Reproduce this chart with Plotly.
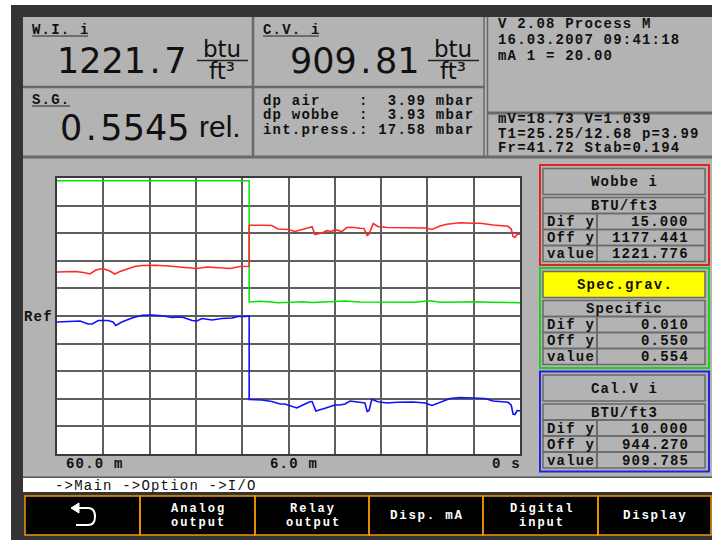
import plotly.graph_objects as go

W, H = 712, 540

# ---------------- data ----------------
# time positions in grid divisions (0 = 60.0 m ago, 10 = now)
t_wobbe = [0, 0.19, 0.39, 0.58, 0.71, 0.84, 0.99, 1.14, 1.25, 1.36, 1.53, 1.68, 1.84, 2.12, 2.40,
           2.70, 3.02, 3.24, 3.52, 3.74, 3.95, 4.13, 4.15, 4.15, 4.17, 4.43, 4.64, 4.77, 4.99, 5.14,
           5.31, 5.46, 5.51, 5.57, 5.72, 5.83, 5.94, 6.00, 6.15, 6.26, 6.37, 6.54, 6.63, 6.70, 6.74,
           6.83, 6.93, 7.13, 7.34, 7.69, 7.95, 8.10, 8.27, 8.42, 8.55, 8.70, 8.98, 9.14, 9.42, 9.74,
           9.81, 9.85, 9.89, 9.94, 10.0]
wobbe = [1201.35, 1201.63, 1201.63, 1201.08, 1200.27, 1202.44, 1203.26, 1201.90, 1200.27, 1201.63,
         1203.26, 1204.34, 1204.89, 1204.99, 1204.61, 1204.07, 1203.26, 1204.07, 1203.53, 1203.26,
         1204.34, 1204.45, 1204.45, 1226.62, 1226.73, 1226.73, 1226.62, 1224.72, 1224.45, 1223.36,
         1224.56, 1225.81, 1225.97, 1221.73, 1222.55, 1223.80, 1223.36, 1224.45, 1223.36, 1225.54,
         1225.65, 1225.10, 1224.99, 1221.19, 1222.01, 1227.71, 1226.08, 1225.54, 1225.43, 1225.65,
         1225.27, 1224.45, 1226.35, 1227.28, 1227.82, 1228.15, 1227.87, 1227.82, 1226.90, 1226.19,
         1224.72, 1220.65, 1220.10, 1221.84, 1221.84]

t_sg = [0, 4.15, 4.15, 4.38, 4.64, 4.77, 4.92, 5.14, 5.31, 5.51, 5.72, 5.94, 6.22, 6.54, 6.80,
        7.08, 7.41, 7.73, 8.06, 8.27, 8.70, 9.03, 9.35, 9.68, 10.0]
sg = [0.5990, 0.5990, 0.5551, 0.5553, 0.5551, 0.5548, 0.5549, 0.5550, 0.5552, 0.5549, 0.5551,
      0.5552, 0.5554, 0.5551, 0.5551, 0.5551, 0.5550, 0.5550, 0.5555, 0.5550, 0.5551, 0.5552,
      0.5550, 0.5549, 0.5548]

t_cal = [0, 0.19, 0.39, 0.50, 0.67, 0.76, 0.89, 1.10, 1.21, 1.27, 1.40, 1.62, 1.84, 2.05, 2.27,
         2.48, 2.70, 2.92, 3.02, 3.13, 3.35, 3.56, 3.78, 3.91, 4.06, 4.13, 4.15, 4.15, 4.17, 4.43,
         4.64, 4.82, 4.92, 5.18, 5.31, 5.46, 5.51, 5.59, 5.79, 6.00, 6.11, 6.22, 6.33, 6.44, 6.54,
         6.65, 6.70, 6.74, 6.80, 6.93, 7.13, 7.34, 7.69, 7.95, 8.10, 8.34, 8.49, 8.70, 9.07, 9.24,
         9.42, 9.74, 9.81, 9.85, 9.89, 9.94, 10.0]
cal = [942.10, 942.28, 942.46, 942.46, 941.37, 941.37, 942.64, 942.64, 942.10, 940.83, 942.10,
       943.55, 944.52, 944.63, 944.34, 943.73, 943.91, 942.64, 942.46, 943.36, 942.82, 943.36,
       943.55, 944.09, 944.09, 944.27, 944.27, 914.02, 914.02, 913.84, 913.29, 912.39, 912.39,
       910.94, 912.02, 913.22, 913.29, 909.85, 910.83, 912.02, 912.02, 912.39, 913.47, 913.29,
       912.93, 912.75, 909.67, 910.03, 914.09, 913.22, 912.75, 913.00, 913.11, 912.75, 911.84,
       913.47, 914.38, 914.74, 914.45, 914.38, 913.47, 913.00, 912.02, 908.76, 908.58, 910.03,
       909.96]

x_labels = ["60.0 m", "6.0 m", "0 s"]

wobbe_dif, wobbe_off, wobbe_val = 15.0, 1177.441, 1221.776
sg_dif, sg_off, sg_val = 0.010, 0.550, 0.554
cal_dif, cal_off, cal_val = 10.0, 944.270, 909.785

wi_value, cv_value, sg_value = "1221.7", "909.81", "0.5545"
dp_lines = ["dp air    :  3.99 mbar", "dp wobbe  :  3.93 mbar", "int.press.: 17.58 mbar"]
status_top = ["V 2.08 Process M", "16.03.2007 09:41:18", "mA 1 = 20.00"]
status_bot = ["mV=18.73 V=1.039", "T1=25.25/12.68 p=3.99", "Fr=41.72 Stab=0.194"]
nav_text = "->Main ->Option ->I/O"
buttons = [[], ["Analog", "output"], ["Relay", "output"], ["Disp. mA"], ["Digital", "input"], ["Display"]]

# ---------------- styling ----------------
DARK = "#343434"
GRAY = "#b3b3b3"
LINE = "#6a6a6a"
MONO = "Liberation Mono"
BIG = "DejaVu Sans"
ORANGE = "#f0960a"


def X(p):
    return p / W


def Y(p):
    return 1 - p / H


shapes = []
annotations = []


def rect(x0, y0, x1, y1, fill=None, line=None, lw=0):
    shapes.append(dict(type="rect", xref="paper", yref="paper", layer="below",
                       x0=X(x0), x1=X(x1), y0=Y(y1), y1=Y(y0),
                       fillcolor=fill or "rgba(0,0,0,0)",
                       line=dict(color=line or "rgba(0,0,0,0)", width=lw)))


def seg(x0, y0, x1, y1, color=LINE, lw=2, layer="below"):
    shapes.append(dict(type="line", xref="paper", yref="paper", layer=layer,
                       x0=X(x0), x1=X(x1), y0=Y(y0), y1=Y(y1),
                       line=dict(color=color, width=lw)))


def txt(s, x, y, size=16, color="#111111", xa="left", family=MONO, weight="bold", ls=None):
    if ls:
        s = f'<span style="letter-spacing:{ls}px">{s}</span>'
    annotations.append(dict(text=s, x=X(x), y=Y(y), xref="paper", yref="paper",
                            xanchor=xa, yanchor="middle", showarrow=False,
                            borderpad=0,
                            font=dict(family=family, size=size, color=color, weight=weight)))


def mono(s, x, y, xa="left", size=14, pitch=9.6, color="#111111", weight="bold"):
    """Bitmap-like monospace text: fixed character pitch via letter spacing."""
    ls = round(pitch - 0.6 * size, 2)
    dx = ls if xa == "right" else (ls / 2 if xa == "center" else 0)
    txt(s.replace(" ", "\u00a0"), x + dx, y + 1, size=size, color=color, xa=xa,
        family=MONO, weight=weight, ls=ls)


# frame
rect(11, 5, 712, 540, fill=DARK)
rect(23, 17, 712, 477, fill=GRAY)

# top panel separators
seg(253, 17, 253, 157, lw=2.5)
seg(23, 87, 485, 87, lw=2.5)
seg(484, 17, 484, 157, lw=1.5)
seg(487.5, 17, 487.5, 157, lw=1.5)
seg(487, 113, 712, 113, lw=3)
seg(23, 157, 712, 157, lw=3)

# headings with underline
mono("W.I. i", 31, 29)
seg(32, 36, 88, 36, color="#555555", lw=1.5)
mono("C.V. i", 262, 29)
seg(263, 36, 319, 36, color="#555555", lw=1.5)
mono("S.G.", 31, 99)
seg(32, 106, 70, 106, color="#555555", lw=1.5)

# big numbers
big_w = "\u200a.\u200a"
txt(wi_value.replace(".", big_w), 187, 61, size=35, xa="right", family=BIG, weight="normal")
txt(cv_value.replace(".", big_w), 420, 61, size=35, xa="right", family=BIG, weight="normal")
txt(sg_value.replace(".", big_w), 190, 128, size=35, xa="right", family=BIG, weight="normal")
txt("rel.", 198, 127, size=30, family="Liberation Sans", weight="normal")
for cx in (222, 453):
    txt("btu", cx, 49, size=23, xa="center", family=BIG, weight="normal")
    seg(cx - 25, 60.5, cx + 26, 60.5, color="#222222", lw=1.5)
    txt("ft³", cx, 71, size=23, xa="center", family=BIG, weight="normal")

for i, s in enumerate(dp_lines):
    mono(s, 262, 100 + i * 14.3)
for i, s in enumerate(status_top):
    mono(s, 497, 23 + i * 16)
for i, s in enumerate(status_bot):
    mono(s, 497, 118 + i * 14.5)

# plot area background
rect(57, 178, 520, 454, fill="white")
mono("Ref", 23, 316)
mono(x_labels[0], 65, 463)
mono(x_labels[1], 269, 463)
mono(x_labels[2], 521, 463, xa="right")

# right side panels
panels = [
    ("#e02424", 165, "Wobbe i", GRAY, "BTU/ft3", wobbe_dif, wobbe_off, wobbe_val),
    ("#22cc22", 268, "Spec.grav.", "#ffff00", "Specific", sg_dif, sg_off, sg_val),
    ("#2424dd", 371.5, "Cal.V i", GRAY, "BTU/ft3", cal_dif, cal_off, cal_val),
]
for col, top, title, tfill, unit, dif, off, val in panels:
    rect(540, top, 709, top + 100, line=col, lw=2)
    rect(543, top + 3.5, 705, top + 29.5, fill=tfill, line=LINE, lw=1.5)
    t0 = top + 32.5
    rect(543, t0, 705, t0 + 16, line=LINE, lw=1.5)
    for r in range(1, 4):
        rect(543, t0 + 16 * r, 597, t0 + 16 * (r + 1), line=LINE, lw=1.5)
        rect(597, t0 + 16 * r, 705, t0 + 16 * (r + 1), line=LINE, lw=1.5)
    mono(title, 624, top + 16, xa="center")
    mono(unit, 624, t0 + 7.5, xa="center")
    for r, (lab, v) in enumerate([("Dif y", dif), ("Off y", off), ("value", val)], start=1):
        mono(lab, 546, t0 + 16 * r + 7.5)
        mono(f"{v:.3f}", 689, t0 + 16 * r + 7.5, xa="right")

# navigation bar and buttons
rect(23, 476.5, 712, 478, fill="#555555")
rect(23, 478, 712, 492, fill="white")
mono(nav_text, 54, 484.5, weight="normal")
rect(25, 496, 711, 535, fill="black")
edges = [25, 140, 255, 369, 483, 598, 711]
for i, lines in enumerate(buttons):
    rect(edges[i], 496, edges[i + 1], 535, line=ORANGE, lw=1.5)
    cx = (edges[i] + edges[i + 1]) / 2
    if len(lines) == 2:
        mono(lines[0], cx, 507.5, xa="center", size=12, pitch=9.2, color="white")
        mono(lines[1], cx, 521.5, xa="center", size=12, pitch=9.2, color="white")
    elif len(lines) == 1:
        mono(lines[0], cx, 514.5, xa="center", size=12.5, pitch=9.2, color="white")

# back-arrow icon on first button (drawn as a path)
pts = lambda x, y: f"{X(x):.5f},{Y(y):.5f}"
shapes.append(dict(type="path", xref="paper", yref="paper", layer="above",
                   path=f"M{pts(78,508)} L{pts(88,508)} Q{pts(95,508)} {pts(95,516.5)} "
                        f"Q{pts(95,525)} {pts(88,525)} L{pts(76,525)}",
                   line=dict(color="white", width=2)))
shapes.append(dict(type="path", xref="paper", yref="paper", layer="above",
                   path=f"M{pts(71,508)} L{pts(79,503)} L{pts(79,513)} Z",
                   fillcolor="white", line=dict(color="white", width=1)))

# ---------------- traces ----------------
fig = go.Figure()
fig.add_trace(go.Scatter(x=t_sg, y=sg, mode="lines", yaxis="y",
                         line=dict(color="#00e600", width=1.5), hoverinfo="skip"))
fig.add_trace(go.Scatter(x=t_cal, y=cal, mode="lines", yaxis="y2",
                         line=dict(color="#1010ff", width=1.6), hoverinfo="skip"))
fig.add_trace(go.Scatter(x=t_wobbe, y=wobbe, mode="lines", yaxis="y3",
                         line=dict(color="#ff2a2a", width=1.6), hoverinfo="skip"))

dom_y = [1 - 454 / H, 1 - 178 / H]
fig.update_layout(
    width=W, height=H,
    margin=dict(l=0, r=0, t=0, b=0, pad=0),
    paper_bgcolor="white", plot_bgcolor="rgba(0,0,0,0)",
    showlegend=False,
    xaxis=dict(domain=[57 / W, 520 / W], range=[0, 10], dtick=1, tick0=0,
               showgrid=True, gridcolor="#5e5e5e", gridwidth=1.5,
               showticklabels=False, ticks="", zeroline=False,
               showline=True, mirror=True, linecolor="#3a3a3a", linewidth=2,
               layer="below traces", fixedrange=True),
    yaxis=dict(domain=dom_y, range=[sg_off - 5 * sg_dif, sg_off + 5 * sg_dif],
               dtick=sg_dif, tick0=sg_off,
               showgrid=True, gridcolor="#5e5e5e", gridwidth=1.5,
               showticklabels=False, ticks="", zeroline=False,
               showline=True, mirror=True, linecolor="#3a3a3a", linewidth=2,
               layer="below traces", fixedrange=True),
    yaxis2=dict(overlaying="y", range=[cal_off - 5 * cal_dif, cal_off + 5 * cal_dif],
                visible=False, fixedrange=True),
    yaxis3=dict(overlaying="y", range=[wobbe_off - 5 * wobbe_dif, wobbe_off + 5 * wobbe_dif],
                visible=False, fixedrange=True),
    shapes=shapes,
    annotations=annotations,
)

fig.write_html("out.html", config={"displayModeBar": False},
               post_script="document.body.style.margin='0';document.body.style.padding='0';")
